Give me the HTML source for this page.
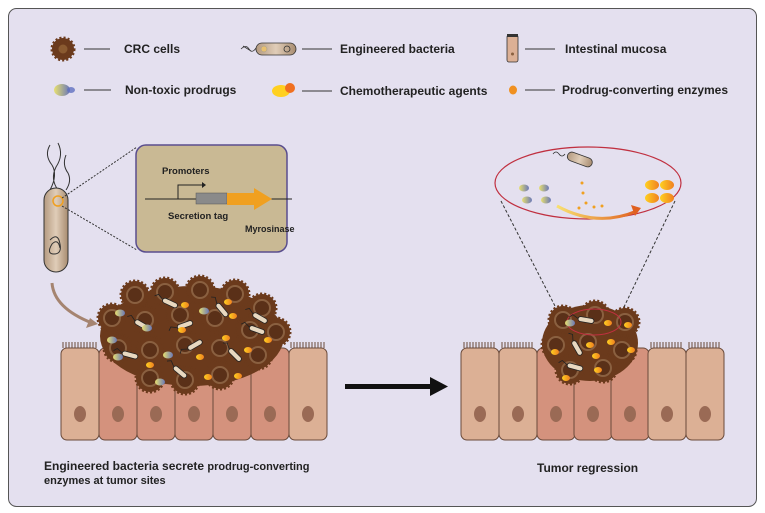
<!DOCTYPE html>
<html><head><meta charset="utf-8"><style>
html,body{margin:0;padding:0;background:#fff;}
svg{display:block;font-family:"Liberation Sans",sans-serif;}
text{font-weight:bold;fill:#222;}
</style></head><body>
<svg width="765" height="513" viewBox="0 0 765 513" xmlns="http://www.w3.org/2000/svg">
<defs>
<linearGradient id="pd" x1="0" x2="1"><stop offset="0" stop-color="#e8e070"/><stop offset="1" stop-color="#6a78b8"/></linearGradient>
<linearGradient id="ch" x1="0" x2="1"><stop offset="0" stop-color="#ffd020"/><stop offset="1" stop-color="#f08020"/></linearGradient>
<linearGradient id="ar" x1="0" x2="1"><stop offset="0" stop-color="#f8e070"/><stop offset="1" stop-color="#e06020"/></linearGradient>
<linearGradient id="bac" x1="0" x2="1"><stop offset="0" stop-color="#b49a80"/><stop offset="0.5" stop-color="#e0cdb8"/><stop offset="1" stop-color="#a88c70"/></linearGradient>
<g id="cc"><circle r="14" fill="#6b3a1c" stroke="#6b3a1c" stroke-width="3" stroke-dasharray="2 2"/><circle r="8" fill="#5a3018" stroke="#8a6040" stroke-width="2"/></g>
<g id="bb"><rect x="-8" y="-2.5" width="16" height="5" rx="2.5" fill="#e8d8c0" stroke="#222" stroke-width="0.8"/><path d="M-8 0 l-6 -3 l-3 3" stroke="#222" fill="none" stroke-width="0.8"/></g>
<g id="yp"><ellipse cx="0" cy="0" rx="4" ry="3" fill="url(#ch)"/></g>
<g id="np"><ellipse cx="0" cy="0" rx="5" ry="3.5" fill="url(#pd)"/></g>
<g id="cellL"><rect x="0" y="0" width="38" height="92" rx="6" stroke="#6a4a3a" stroke-width="1"/></g>
</defs>
<rect x="0" y="0" width="765" height="513" fill="#fff"/>
<rect x="8.5" y="8.5" width="748" height="498" rx="8" fill="#e4e0ef" stroke="#555" stroke-width="1"/>

<!-- legend -->
<g transform="translate(63,49)"><circle r="11" fill="#6b3a1c" stroke="#6b3a1c" stroke-width="3" stroke-dasharray="2 2"/><circle r="4.5" fill="#8a5a30"/></g>
<line x1="84" y1="49" x2="110" y2="49" stroke="#333"/>
<text x="124" y="53" font-size="12">CRC cells</text>
<path d="M241 49 q5 -5 8 0 q3 5 7 -1 M243 46 l8 5" stroke="#333" fill="none" stroke-width="0.8"/>
<rect x="256" y="43" width="40" height="12" rx="6" fill="url(#bac)" stroke="#333" stroke-width="0.8"/>
<circle cx="264" cy="49" r="3" fill="#e8c070" stroke="#999" stroke-width="0.5"/>
<circle cx="287" cy="49" r="3" fill="none" stroke="#333" stroke-width="0.8"/>
<line x1="302" y1="49" x2="332" y2="49" stroke="#333"/>
<text x="340" y="53" font-size="12">Engineered bacteria</text>
<rect x="507" y="35" width="11" height="27" rx="2" fill="#dcb095" stroke="#333" stroke-width="0.8"/>
<rect x="507" y="34" width="11" height="3" fill="#333"/>
<circle cx="512.5" cy="54" r="1.5" fill="#8a6040"/>
<line x1="525" y1="49" x2="555" y2="49" stroke="#333"/>
<text x="565" y="53" font-size="12">Intestinal mucosa</text>

<g transform="translate(62,90)"><ellipse cx="0" cy="0" rx="8" ry="6" fill="url(#pd)"/><ellipse cx="9" cy="0" rx="4" ry="3" fill="#6070c0" opacity="0.8"/></g>
<line x1="84" y1="90" x2="111" y2="90" stroke="#333"/>
<text x="125" y="94" font-size="12">Non-toxic prodrugs</text>
<g transform="translate(281,91)"><ellipse cx="0" cy="0" rx="9" ry="6" fill="#ffd020"/><ellipse cx="9" cy="-3" rx="5" ry="5" fill="#f07020"/></g>
<line x1="302" y1="91" x2="332" y2="91" stroke="#333"/>
<text x="340" y="95" font-size="12">Chemotherapeutic agents</text>
<ellipse cx="513" cy="90" rx="4" ry="4.5" fill="#f09020"/>
<line x1="525" y1="90" x2="555" y2="90" stroke="#333"/>
<text x="562" y="94" font-size="12">Prodrug-converting enzymes</text>

<!-- bacterium big -->
<path d="M50 145 q-6 10 2 20 q6 10 -2 25 M58 143 q6 12 -2 24 q-6 12 2 23 M66 155 q-4 10 2 18 q4 8 -2 17" stroke="#333" fill="none" stroke-width="1"/>
<rect x="44" y="188" width="24" height="84" rx="12" fill="url(#bac)" stroke="#333" stroke-width="1"/>
<circle cx="58" cy="201" r="5" fill="none" stroke="#f0a020" stroke-width="1.5"/>
<path d="M50 240 q8 -8 10 4 q2 10 -6 10 q-8 0 -2 -10 q6 -6 8 4" stroke="#333" fill="none" stroke-width="1"/>
<line x1="62" y1="198" x2="137" y2="147" stroke="#333" stroke-dasharray="2 1.5"/>
<line x1="62" y1="206" x2="137" y2="250" stroke="#333" stroke-dasharray="2 1.5"/>
<rect x="136" y="145" width="151" height="107" rx="10" fill="#c9b994" stroke="#5a4e8e" stroke-width="1.5"/>
<text x="162" y="174" font-size="9.5">Promoters</text>
<path d="M178 199 v-14 h24" stroke="#222" fill="none"/><path d="M202 182 l4 3 l-4 3z" fill="#222"/>
<line x1="145" y1="199" x2="292" y2="199" stroke="#222"/>
<rect x="196" y="193" width="31" height="11" fill="#8a8a8a" stroke="#555" stroke-width="0.5"/>
<path d="M227 193 h27 v-5 l18 11 l-18 11 v-5 h-27z" fill="#f0a020"/>
<text x="168" y="219" font-size="9.5">Secretion tag</text>
<text x="245" y="232" font-size="9">Myrosinase</text>

<!-- curved arrow -->
<path d="M52 283 q2 25 40 40" stroke="#a58470" stroke-width="3" fill="none"/>
<path d="M98 324 l-12 4 l4 -10z" fill="#a58470"/>

<!-- left cells -->
<g fill="#dcb095"><use href="#cellL" x="61" y="348"/></g>
<g fill="#d4927d"><use href="#cellL" x="99" y="348"/><use href="#cellL" x="137" y="348"/><use href="#cellL" x="175" y="348"/><use href="#cellL" x="213" y="348"/><use href="#cellL" x="251" y="348"/></g>
<g fill="#dcb095"><use href="#cellL" x="289" y="348"/></g>
<g stroke="#6a4a3a" stroke-width="1"><path d="M63 348 v-6 M66 348 v-6 M69 348 v-6 M72 348 v-6 M75 348 v-6 M78 348 v-6 M81 348 v-6 M84 348 v-6 M87 348 v-6 M90 348 v-6 M93 348 v-6 M96 348 v-6 M291 348 v-6 M294 348 v-6 M297 348 v-6 M300 348 v-6 M303 348 v-6 M306 348 v-6 M309 348 v-6 M312 348 v-6 M315 348 v-6 M318 348 v-6 M321 348 v-6 M324 348 v-6"/></g>
<g fill="#9a6a55"><ellipse cx="80" cy="414" rx="6" ry="8"/><ellipse cx="118" cy="414" rx="6" ry="8"/><ellipse cx="156" cy="414" rx="6" ry="8"/><ellipse cx="194" cy="414" rx="6" ry="8"/><ellipse cx="232" cy="414" rx="6" ry="8"/><ellipse cx="270" cy="414" rx="6" ry="8"/><ellipse cx="308" cy="414" rx="6" ry="8"/></g>

<!-- left tumor -->
<g>
<ellipse cx="192" cy="336" rx="92" ry="50" fill="#6b3a1c"/>
<use href="#cc" x="135" y="295"/><use href="#cc" x="165" y="292"/><use href="#cc" x="200" y="290"/><use href="#cc" x="235" y="294"/><use href="#cc" x="262" y="308"/>
<use href="#cc" x="112" y="318"/><use href="#cc" x="145" y="320"/><use href="#cc" x="180" y="315"/><use href="#cc" x="215" y="318"/><use href="#cc" x="250" y="330"/><use href="#cc" x="276" y="332"/>
<use href="#cc" x="118" y="348"/><use href="#cc" x="150" y="350"/><use href="#cc" x="185" y="345"/><use href="#cc" x="220" y="348"/><use href="#cc" x="258" y="355"/>
<use href="#cc" x="150" y="378"/><use href="#cc" x="185" y="380"/><use href="#cc" x="220" y="375"/>
<use href="#bb" transform="translate(170,303) rotate(25)"/><use href="#bb" transform="translate(142,325) rotate(30)"/><use href="#bb" transform="translate(185,325) rotate(-20)"/><use href="#bb" transform="translate(222,310) rotate(50)"/><use href="#bb" transform="translate(260,318) rotate(30)"/><use href="#bb" transform="translate(130,355) rotate(15)"/><use href="#bb" transform="translate(195,345) rotate(-30)"/><use href="#bb" transform="translate(235,355) rotate(45)"/><use href="#bb" transform="translate(180,372) rotate(40)"/><use href="#bb" transform="translate(257,330) rotate(20)"/>
<use href="#yp" x="185" y="305"/><use href="#yp" x="228" y="302"/><use href="#yp" x="233" y="316"/><use href="#yp" x="182" y="330"/><use href="#yp" x="226" y="338"/><use href="#yp" x="268" y="340"/><use href="#yp" x="248" y="350"/><use href="#yp" x="200" y="357"/><use href="#yp" x="150" y="365"/><use href="#yp" x="208" y="377"/><use href="#yp" x="238" y="376"/>
<use href="#np" x="120" y="313"/><use href="#np" x="147" y="328"/><use href="#np" x="204" y="311"/><use href="#np" x="112" y="340"/><use href="#np" x="118" y="357"/><use href="#np" x="168" y="355"/><use href="#np" x="160" y="382"/>
</g>

<!-- big arrow -->
<rect x="345" y="384" width="88" height="5" fill="#111"/>
<path d="M430 377 l18 9.5 l-18 9.5z" fill="#111"/>

<!-- right cells -->
<g fill="#dcb095"><use href="#cellL" x="461" y="348"/><use href="#cellL" x="499" y="348"/></g>
<g fill="#d4927d"><use href="#cellL" x="537" y="348"/><use href="#cellL" x="574" y="348"/><use href="#cellL" x="611" y="348"/></g>
<g fill="#dcb095"><use href="#cellL" x="648" y="348"/><use href="#cellL" x="686" y="348"/></g>
<g stroke="#6a4a3a" stroke-width="1"><path d="M464 348 v-6 M467 348 v-6 M470 348 v-6 M473 348 v-6 M476 348 v-6 M479 348 v-6 M482 348 v-6 M485 348 v-6 M488 348 v-6 M491 348 v-6 M494 348 v-6 M502 348 v-6 M505 348 v-6 M508 348 v-6 M511 348 v-6 M514 348 v-6 M517 348 v-6 M520 348 v-6 M523 348 v-6 M526 348 v-6 M529 348 v-6 M532 348 v-6 M651 348 v-6 M654 348 v-6 M657 348 v-6 M660 348 v-6 M663 348 v-6 M666 348 v-6 M669 348 v-6 M672 348 v-6 M675 348 v-6 M678 348 v-6 M681 348 v-6 M689 348 v-6 M692 348 v-6 M695 348 v-6 M698 348 v-6 M701 348 v-6 M704 348 v-6 M707 348 v-6 M710 348 v-6 M713 348 v-6 M716 348 v-6 M719 348 v-6"/></g>
<g fill="#9a6a55"><ellipse cx="480" cy="414" rx="6" ry="8"/><ellipse cx="518" cy="414" rx="6" ry="8"/><ellipse cx="556" cy="414" rx="6" ry="8"/><ellipse cx="593" cy="414" rx="6" ry="8"/><ellipse cx="630" cy="414" rx="6" ry="8"/><ellipse cx="667" cy="414" rx="6" ry="8"/><ellipse cx="705" cy="414" rx="6" ry="8"/></g>

<!-- right tumor -->
<g>
<ellipse cx="590" cy="343" rx="48" ry="38" fill="#6b3a1c"/>
<use href="#cc" x="563" y="320"/><use href="#cc" x="595" y="315"/><use href="#cc" x="625" y="322"/><use href="#cc" x="556" y="345"/><use href="#cc" x="588" y="342"/><use href="#cc" x="622" y="350"/><use href="#cc" x="570" y="370"/><use href="#cc" x="603" y="368"/>
<ellipse cx="594" cy="322" rx="27" ry="13" fill="none" stroke="#c03040" stroke-width="1"/>
<use href="#bb" transform="translate(586,320) rotate(10)"/><use href="#bb" transform="translate(577,348) rotate(60)"/><use href="#bb" transform="translate(575,367) rotate(15)"/>
<use href="#yp" x="608" y="323"/><use href="#yp" x="628" y="325"/><use href="#yp" x="555" y="352"/><use href="#yp" x="590" y="345"/><use href="#yp" x="596" y="356"/><use href="#yp" x="631" y="350"/><use href="#yp" x="611" y="342"/><use href="#yp" x="566" y="378"/><use href="#yp" x="598" y="370"/>
<use href="#np" x="570" y="323"/>
</g>
<line x1="501" y1="201" x2="556" y2="308" stroke="#333" stroke-dasharray="3 2"/>
<line x1="675" y1="201" x2="624" y2="307" stroke="#333" stroke-dasharray="3 2"/>
<ellipse cx="588" cy="183" rx="93" ry="36" fill="#e4e0ef" stroke="#c03040" stroke-width="1.2"/>
<path d="M553 154 q3 -4 6 0 q3 4 6 0" stroke="#333" fill="none" stroke-width="0.8"/>
<rect x="567" y="155" width="26" height="9" rx="4.5" transform="rotate(20 580 159)" fill="url(#bac)" stroke="#333" stroke-width="0.8"/>
<g><use href="#np" x="524" y="188"/><use href="#np" x="544" y="188"/><use href="#np" x="527" y="200"/><use href="#np" x="546" y="200"/></g>
<g><ellipse cx="652" cy="185" rx="7" ry="5" fill="url(#ch)"/><ellipse cx="667" cy="185" rx="7" ry="5" fill="url(#ch)"/><ellipse cx="652" cy="198" rx="7" ry="5" fill="url(#ch)"/><ellipse cx="667" cy="198" rx="7" ry="5" fill="url(#ch)"/></g>
<g fill="#f0a020"><circle cx="582" cy="183" r="1.5"/><circle cx="583" cy="193" r="1.5"/><circle cx="586" cy="203" r="1.5"/><circle cx="579" cy="208" r="1.5"/><circle cx="594" cy="207" r="1.5"/><circle cx="602" cy="206" r="1.5"/></g>
<path d="M557 206 q40 22 80 5" stroke="url(#ar)" stroke-width="3" fill="none"/>
<path d="M631 205 l10 3 l-6 8z" fill="#e06020"/>

<!-- captions -->
<text x="44" y="470" font-size="12">Engineered bacteria secrete <tspan font-size="11">prodrug-converting</tspan></text>
<text x="44" y="484" font-size="11">enzymes at tumor sites</text>
<text x="537" y="472" font-size="12">Tumor regression</text>
</svg>
</body></html>
